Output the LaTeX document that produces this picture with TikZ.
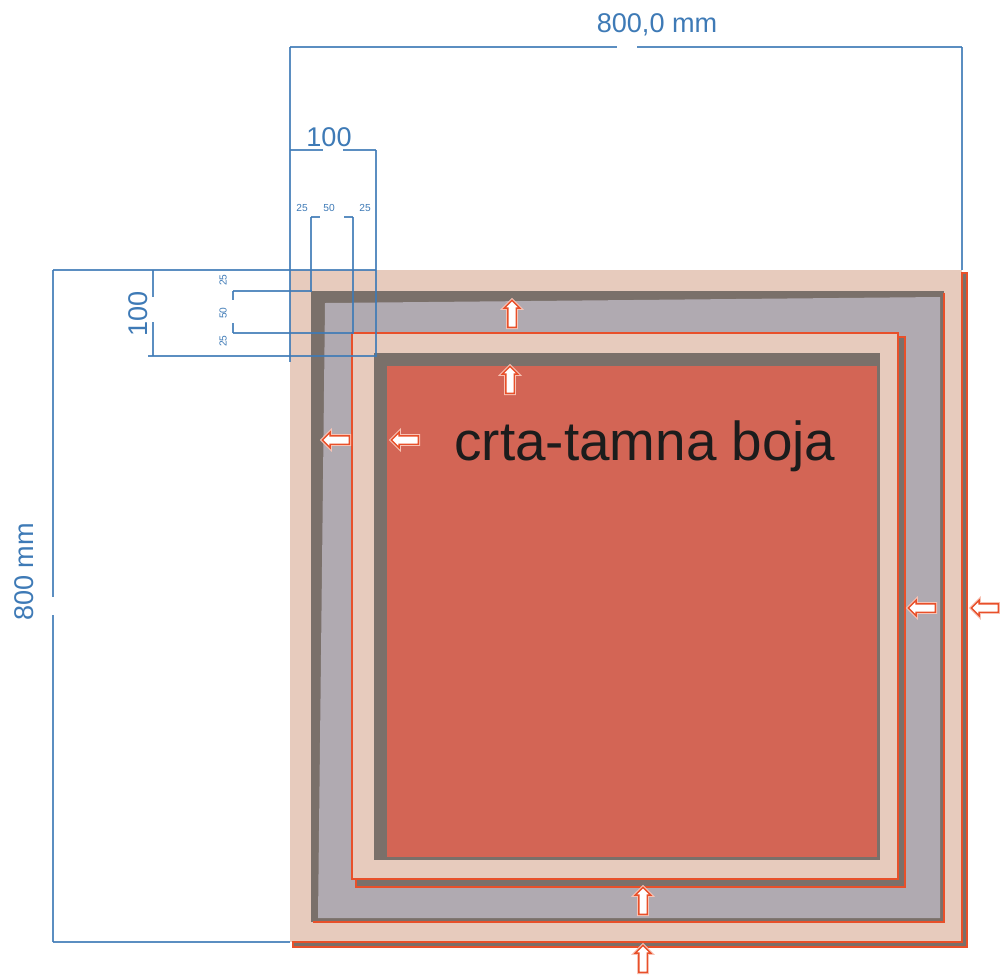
\documentclass[tikz,border=0pt]{standalone}
\usepackage{fontspec}
\setmainfont{Liberation Sans}
\usetikzlibrary{shapes.arrows}
\definecolor{beige}{RGB}{231,203,189}
\definecolor{dgrey}{RGB}{122,112,106}
\definecolor{lgrey}{RGB}{176,170,177}
\definecolor{redfill}{RGB}{211,101,85}
\definecolor{redline}{RGB}{232,80,42}
\definecolor{dimblue}{RGB}{62,122,182}
\definecolor{txt}{RGB}{28,28,28}
\tikzset{
  dimline/.style={draw=dimblue, line width=0.6pt, opacity=0.85},
  dimthin/.style={draw=dimblue, line width=0.35pt, opacity=0.85},
  dimtext/.style={text=dimblue, inner sep=0pt, font=\fontsize{7.7}{9}\selectfont},
  dimtiny/.style={text=dimblue, inner sep=0pt, font=\fontsize{2.9}{3.2}\selectfont},
  blockarrow/.style={single arrow, fill=white, draw=redline, line width=0.4pt,
     preaction={draw=redline!35, line width=1.0pt},
     minimum height=0.27cm, inner sep=0.035cm,
     single arrow head extend=0.035cm, single arrow tip angle=90},
  uparrow/.style={blockarrow, shape border rotate=90},
  leftarrow/.style={blockarrow, shape border rotate=180},
}
\begin{document}
\begin{tikzpicture}[x=0.01cm,y=-0.01cm]
\useasboundingbox (0,0) rectangle (1000,975);

% outer square with shadow
\filldraw[fill=dgrey, draw=redline, line width=0.4pt] (293,273) rectangle (967,947);
\fill[beige] (290,270) rectangle (962,942);
\draw[redline, line width=0.4pt] (962,272) -- (962,942) -- (292,942);

% grey band
\fill[dgrey] (311,291) rectangle (944,922);
\draw[redline, line width=0.35pt] (944,293) -- (944,922) -- (313,922);
\fill[lgrey] (325,303) -- (940,297) -- (940,918) -- (318,918) -- cycle;

% inner beige with shadow
\filldraw[fill=dgrey, draw=redline, line width=0.4pt] (356,337) rectangle (905,887);
\filldraw[fill=beige, draw=redline, line width=0.4pt] (352,333) rectangle (898,879);

% inner dark frame and red field
\fill[dgrey] (374,353) rectangle (880,860);
\fill[redfill] (387,366) rectangle (877,857);

% arrows
\node[uparrow] (a1) at (512,316) {};
\node[uparrow] (a2) at (510,382) {};
\node[leftarrow] (a3) at (338,440) {};
\node[leftarrow] (a4) at (407,440) {};
\node[leftarrow] (a5) at (924,608) {};
\node[leftarrow] (a6) at (987,608) {};
\node[uparrow] (a7) at (643,903) {};
\node[uparrow] (a8) at (643,961) {};

% label
\node[text=txt, inner sep=0pt, font=\fontsize{15.6}{18}\selectfont] (lbl) at (645,446) {crta-tamna boja};

% main dimensions
\draw[dimline] (290,47) -- (617,47);
\draw[dimline] (637,47) -- (962,47);
\draw[dimline] (290,47) -- (290,362);
\draw[dimline] (962,47) -- (962,270);
\draw[dimline] (53,270) -- (53,597);
\draw[dimline] (53,615) -- (53,942);
\draw[dimline] (53,270) -- (376,270);
\draw[dimline] (53,942) -- (290,942);
\draw[dimline] (290,150) -- (323,150);
\draw[dimline] (343,150) -- (376,150);
\draw[dimline] (376,150) -- (376,357);
\draw[dimline] (153,270) -- (153,297);
\draw[dimline] (153,322) -- (153,356);
\draw[dimline] (148,356) -- (376,356);

% small dimensions
\draw[dimthin] (311,217) -- (320,217);
\draw[dimthin] (344,217) -- (353,217);
\draw[dimthin] (311,217) -- (311,292);
\draw[dimthin] (353,217) -- (353,334);
\draw[dimthin] (233,291) -- (233,300);
\draw[dimthin] (233,323) -- (233,333);
\draw[dimthin] (233,291) -- (312,291);
\draw[dimthin] (233,333) -- (353,333);

% dimension texts
\node[dimtext] (t800) at (657,25) {800,0 mm};
\node[dimtext] (t100) at (329,137) {100};
\node[dimtext, rotate=90] (l800) at (24,572) {800 mm};
\node[dimtext, rotate=90] (l100) at (138,314) {100};
\node[dimtiny] (s1) at (302,208) {25};
\node[dimtiny] (s2) at (329,208) {50};
\node[dimtiny] (s3) at (365,208) {25};
\node[dimtiny, rotate=90] (s4) at (223,280) {25};
\node[dimtiny, rotate=90] (s5) at (223,313) {50};
\node[dimtiny, rotate=90] (s6) at (223,341) {25};
\end{tikzpicture}
\end{document}
